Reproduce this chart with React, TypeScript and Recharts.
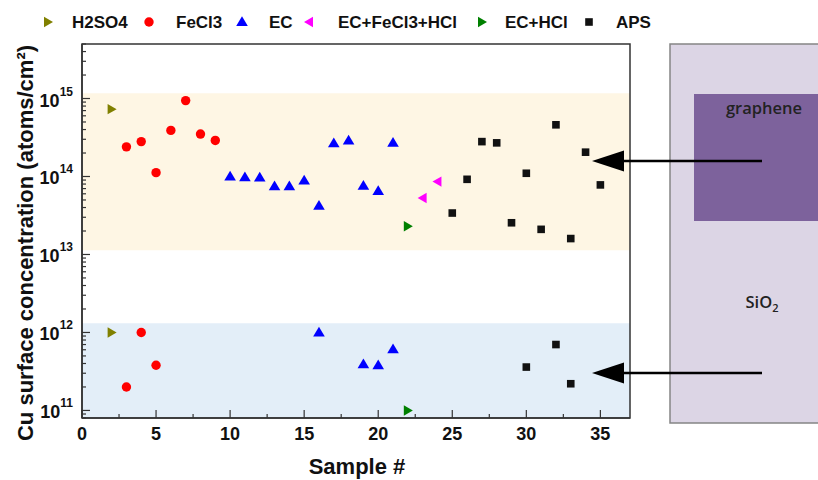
import React from 'react';
import { ScatterChart, Scatter, XAxis, YAxis, ReferenceArea, Customized } from 'recharts';

// ---- data ----
const h2so4X = [2, 2];
const h2so4Y = [7.3e14, 1.0e12];

const fecl3X = [3, 4, 5, 6, 7, 8, 9, 3, 4, 5];
const fecl3Y = [2.4e14, 2.8e14, 1.12e14, 3.9e14, 9.4e14, 3.5e14, 2.9e14, 2.0e11, 1.0e12, 3.8e11];

const ecX = [10, 11, 12, 13, 14, 15, 16, 17, 18, 19, 20, 21, 16, 19, 20, 21];
const ecY = [1.0e14, 9.8e13, 9.7e13, 7.5e13, 7.5e13, 8.9e13, 4.2e13, 2.66e14, 2.9e14, 7.6e13, 6.5e13, 2.7e14, 1.0e12, 3.9e11, 3.8e11, 6.1e11];

const ecFeHclX = [23, 24];
const ecFeHclY = [5.3e13, 8.6e13];

const ecHclX = [22, 22];
const ecHclY = [2.3e13, 1.0e11];

const apsX = [25, 26, 27, 28, 29, 30, 31, 32, 33, 34, 35, 30, 32, 33];
const apsY = [3.4e13, 9.2e13, 2.8e14, 2.7e14, 2.55e13, 1.1e14, 2.1e13, 4.6e14, 1.6e13, 2.05e14, 7.8e13, 3.6e11, 7.0e11, 2.2e11];

const sampleTicks = [0, 2.5, 5, 7.5, 10, 12.5, 15, 17.5, 20, 22.5, 25, 27.5, 30, 32.5, 35];
const sampleLabels = [0, 5, 10, 15, 20, 25, 30, 35];
const decadeExps = [10, 11, 12, 13, 14, 15];
const minorMults = [1, 2, 3, 4, 5, 6, 7, 8, 9];

const xDomain = [0, 37];
const yDomain = [8e10, 5e15];
const grapheneBand = [1.13e13, 1.17e15];
const sio2Band = [8e10, 1.31e12];

const seriesNames = ['H2SO4', 'FeCl3', 'EC', 'EC+FeCl3+HCl', 'EC+HCl', 'APS'];
const seriesColors = ['#808000', '#ff0000', '#0000ff', '#ff00ff', '#008000', '#111111'];
const seriesShapes = ['right', 'circle', 'up', 'left', 'right', 'square'];

const toPoints = (xs: number[], ys: number[]) => xs.map((x, i) => ({ x, y: ys[i] }));
const seriesData = [
  toPoints(h2so4X, h2so4Y),
  toPoints(fecl3X, fecl3Y),
  toPoints(ecX, ecY),
  toPoints(ecFeHclX, ecFeHclY),
  toPoints(ecHclX, ecHclY),
  toPoints(apsX, apsY),
];

const yTicks: number[] = [];
decadeExps.forEach((e) => minorMults.forEach((m) => {
  const v = m * Math.pow(10, e);
  if (v >= yDomain[0] && v <= yDomain[1]) yTicks.push(v);
}));

// ---- marker ----
const Marker = ({ cx, cy, kind, color }: { cx: number; cy: number; kind: string; color: string }) => {
  if (cx == null || cy == null || isNaN(cx) || isNaN(cy)) return null;
  switch (kind) {
    case 'circle':
      return <circle cx={cx} cy={cy} r={4.7} fill={color} />;
    case 'up':
      return <polygon points={`${cx},${cy - 5.8} ${cx - 5.8},${cy + 4} ${cx + 5.8},${cy + 4}`} fill={color} />;
    case 'right':
      return <polygon points={`${cx - 4},${cy - 5.2} ${cx + 5},${cy} ${cx - 4},${cy + 5.2}`} fill={color} />;
    case 'left':
      return <polygon points={`${cx + 4},${cy - 5.2} ${cx - 5},${cy} ${cx + 4},${cy + 5.2}`} fill={color} />;
    case 'square':
      return <rect x={cx - 3.8} y={cy - 3.8} width={7.6} height={7.6} fill={color} />;
    default:
      return null;
  }
};

const AXIS = '#333333';
const BOLD = { fontFamily: '"Liberation Sans", Arial, sans-serif', fontWeight: 700 };
const SEMI = { fontFamily: '"Open Sans", sans-serif', fontWeight: 600 };

const YTick = (props: any) => {
  const { x, y, payload } = props;
  const v = payload.value as number;
  const exp = Math.round(Math.log10(v));
  const isMajor = Math.abs(v - Math.pow(10, exp)) / v < 1e-6;
  return (
    <g>
      <line x1={x} x2={x + (isMajor ? 8 : 4)} y1={y} y2={y} stroke={AXIS} strokeWidth={1.2} />
      {isMajor && (
        <text x={x - 9} y={y + 8} textAnchor="end" fontSize={18} fill="#111" style={BOLD}>
          10<tspan dy={-11} fontSize={12}>{exp}</tspan>
        </text>
      )}
    </g>
  );
};

const XTick = (props: any) => {
  const { x, y, payload } = props;
  const v = payload.value as number;
  const isMajor = sampleLabels.includes(v);
  return (
    <g>
      <line x1={x} x2={x} y1={y} y2={y - (isMajor ? 8 : 4)} stroke={AXIS} strokeWidth={1.2} />
      {isMajor && (
        <text x={x} y={y + 22} textAnchor="middle" fontSize={18} fill="#111" style={BOLD}>
          {v}
        </text>
      )}
    </g>
  );
};

const legendMarkerX = [48, 149, 242, 309, 482, 589];
const legendTextX = [72, 176, 269, 338, 505, 616];

const Overlay = () => (
  <g>
    {/* legend */}
    {seriesNames.map((n, i) => (
      <g key={n}>
        <Marker cx={legendMarkerX[i]} cy={22} kind={seriesShapes[i]} color={seriesColors[i]} />
        <text x={legendTextX[i]} y={28} fontSize={17} fill="#111" style={BOLD}>{n}</text>
      </g>
    ))}
    {/* axis titles */}
    <text transform="translate(33,243) rotate(-90)" textAnchor="middle" fontSize={22} fill="#111" style={BOLD}>
      Cu surface concentration (atoms/cm²)
    </text>
    <text x={357} y={474} textAnchor="middle" fontSize={22} fill="#111" style={BOLD}>Sample #</text>
    {/* region labels */}
    <text x={154} y={241} fontSize={16} fill="#222" style={SEMI}>on graphene</text>
    <text x={173} y={341} fontSize={16} fill="#222" style={SEMI}>
      on SiO<tspan dy={4} fontSize={11}>2</tspan>
    </text>
    {/* right schematic */}
    <rect x={670} y={44} width={170} height={379} fill="#dcd5e5" stroke="#858585" strokeWidth={1.5} />
    <rect x={694} y={94} width={150} height={127} fill="#7d629c" />
    <text x={764} y={114} textAnchor="middle" fontSize={16.5} fill="#222" style={SEMI}>graphene</text>
    <text x={762} y={308} textAnchor="middle" fontSize={16.5} fill="#222" style={SEMI}>
      SiO<tspan dy={4} fontSize={11}>2</tspan>
    </text>
  </g>
);

const arrowYs = [161, 373];

export default function App() {
  return (
    <div style={{ position: 'absolute', left: 0, top: 0, width: 818, height: 480, background: '#fff' }}>
      <ScatterChart width={818} height={480} margin={{ top: 44, right: 188, left: 0, bottom: 0 }}>
        <XAxis
          type="number"
          dataKey="x"
          domain={xDomain}
          ticks={sampleTicks}
          interval={0}
          allowDataOverflow
          height={62}
          tickSize={0}
          tickMargin={0}
          tickLine={false}
          axisLine={{ stroke: AXIS, strokeWidth: 1.5 }}
          tick={<XTick />}
        />
        <YAxis
          type="number"
          dataKey="y"
          scale="log"
          domain={yDomain}
          ticks={yTicks}
          interval={0}
          allowDataOverflow
          width={82}
          tickSize={0}
          tickMargin={0}
          tickLine={false}
          axisLine={{ stroke: AXIS, strokeWidth: 1.5 }}
          tick={<YTick />}
        />
        <ReferenceArea x1={xDomain[0]} x2={xDomain[1]} y1={grapheneBand[0]} y2={grapheneBand[1]} fill="#fef6e4" fillOpacity={1} stroke="none" />
        <ReferenceArea x1={xDomain[0]} x2={xDomain[1]} y1={sio2Band[0]} y2={sio2Band[1]} fill="#e3eef8" fillOpacity={1} stroke="none" />
        <ReferenceArea x1={xDomain[0]} x2={xDomain[1]} y1={yDomain[0]} y2={yDomain[1]} fill="none" stroke={AXIS} strokeWidth={1.5} />
        {seriesData.map((d, i) => (
          <Scatter
            key={seriesNames[i]}
            name={seriesNames[i]}
            data={d}
            fill={seriesColors[i]}
            isAnimationActive={false}
            shape={(p: any) => <Marker cx={p.cx} cy={p.cy} kind={seriesShapes[i]} color={seriesColors[i]} />}
          />
        ))}
        <Customized component={Overlay} />
      </ScatterChart>
      <svg width={818} height={480} style={{ position: 'absolute', left: 0, top: 0, pointerEvents: 'none' }}>
        {arrowYs.map((ay) => (
          <g key={ay}>
            <line x1={762} x2={615} y1={ay} y2={ay} stroke="#000" strokeWidth={2.5} />
            <polygon points={`592,${ay} 624,${ay - 10.5} 624,${ay + 10.5}`} fill="#000" />
          </g>
        ))}
      </svg>
    </div>
  );
}
